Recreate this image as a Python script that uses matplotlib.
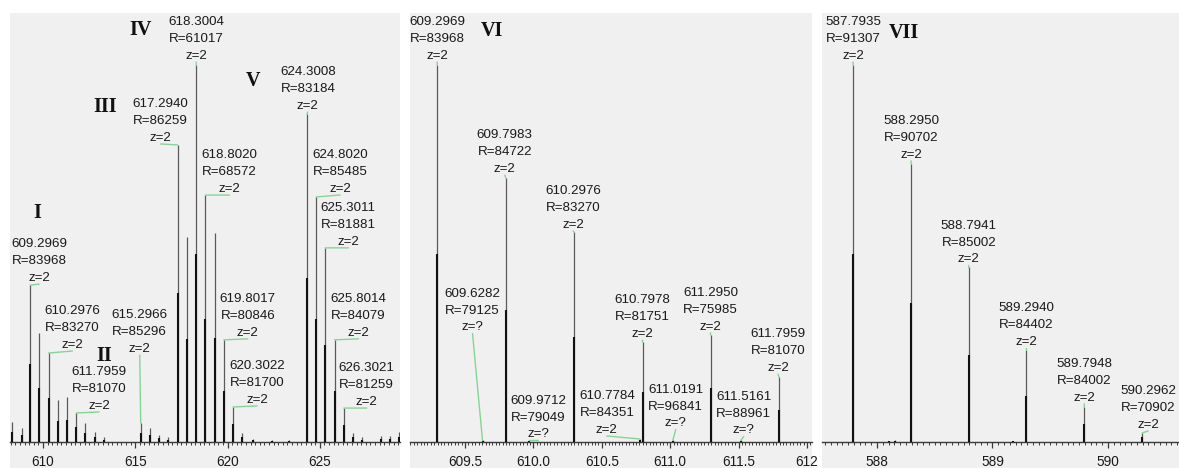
import matplotlib
matplotlib.use("Agg")
import matplotlib.pyplot as plt
from matplotlib.patches import Rectangle
from matplotlib.ticker import MultipleLocator, FixedLocator, FixedFormatter

plt.rcParams['font.family'] = ['Liberation Sans', 'DejaVu Sans']

W, H = 1179, 468

# ---- panel 1: whole region, m/z and relative intensity ----
mz1 = [608.32, 608.86, 609.2969, 609.7983, 610.2976, 610.80, 611.295, 611.7959, 612.30, 612.80, 613.31,
       615.2966, 615.80, 616.30, 616.80, 617.2940, 617.80, 618.3004, 618.8020, 619.30, 619.8017,
       620.3022, 620.80, 621.40, 622.40, 623.35, 624.3008, 624.8020, 625.3011, 625.8014, 626.3021,
       626.80, 627.30, 628.30, 628.80, 629.30]
int1 = [5.3, 3.7, 41.6, 28.9, 23.6, 11.1, 11.9, 7.7, 5.0, 2.7, 1.3,
        5.0, 3.7, 1.9, 1.3, 78.8, 54.4, 100, 65.5, 55.4, 27.1,
        9.3, 2.4, 0.8, 0.6, 0.6, 87.0, 65.0, 51.5, 27.1, 9.0,
        2.4, 1.3, 1.6, 1.6, 2.7]
lab1_mz = [609.2969, 610.2976, 611.7959, 615.2966, 617.2940, 618.3004, 618.8020,
           619.8017, 620.3022, 624.3008, 624.8020, 625.3011, 625.8014, 626.3021]
lab1_R = [83968, 83270, 81070, 85296, 86259, 61017, 68572,
          80846, 81700, 83184, 85485, 81881, 84079, 81259]
lab1_z = ['2'] * 14
roman1 = ['I', 'II', 'III', 'IV', 'V']

# ---- panel 2: zoom on cluster I/II ----
mz2 = [609.2969, 609.6282, 609.7983, 609.9712, 610.2976, 610.7784, 610.7978,
       611.0191, 611.2950, 611.5161, 611.7959]
int2 = [100, 0.4, 70.0, 0.4, 55.7, 0.8, 26.5, 0.4, 28.4, 0.4, 17.2]
lab2_mz = mz2
lab2_R = [83968, 79125, 84722, 79049, 83270, 84351, 81751, 96841, 75985, 88961, 81070]
lab2_z = ['2', '?', '2', '?', '2', '2', '2', '?', '2', '?', '2']
roman2 = ['VI']

# ---- panel 3: cluster VII ----
mz3 = [587.7935, 588.10, 588.16, 588.2950, 588.7941, 589.18, 589.2940, 589.7948, 590.2962]
int3 = [100, 0.3, 0.6, 73.8, 46.3, 0.3, 24.3, 9.3, 2.4]
lab3_mz = [587.7935, 588.2950, 588.7941, 589.2940, 589.7948, 590.2962]
lab3_R = [91307, 90702, 85002, 84402, 84002, 70902]
lab3_z = ['2'] * 6
roman3 = ['VII']

# layout: label offsets (pixels from peak top), roman numeral positions
off1 = [(9, 1), (24, 2), (23, 1), (-1, 68), (-17, 1), (0, 3), (24, 0),
        (24, 1), (24, 1), (1, 2), (24, 2), (23, 0), (24, 1), (23, 0)]
off2 = [(0, 3), (-10, 107), (-1, 3), (9, 0), (-1, 1), (-33, 3), (0, 2),
        (3, 11), (0, 2), (3, 4), (-1, 3)]
off3 = [(0, 3), (0, 3), (0, 2), (0, 2), (0, 3), (6, 2)]
rpos1 = [(609.67, 60.7), (613.33, 22.8), (613.36, 88.9), (615.26, 109.3), (621.38, 95.8)]
rpos2 = [(609.70, 109.0)]
rpos3 = [(588.23, 108.5)]

panels = [
    dict(px=(10, 400), xlim=(608.21, 629.35), major=[610, 615, 620, 625],
         ticklab=['610', '615', '620', '625'], minor=0.25,
         mz=mz1, inten=int1, lmz=lab1_mz, lR=lab1_R, lz=lab1_z, off=off1,
         roman=roman1, rpos=rpos1),
    dict(px=(410, 812), xlim=(609.098, 612.037), major=[609.5, 610, 610.5, 611, 611.5, 612],
         ticklab=['609.5', '610.0', '610.5', '611.0', '611.5', '612'], minor=0.025,
         mz=mz2, inten=int2, lmz=lab2_mz, lR=lab2_R, lz=lab2_z, off=off2,
         roman=roman2, rpos=rpos2),
    dict(px=(822, 1179), xlim=(587.524, 590.615), major=[588, 589, 590],
         ticklab=['588', '589', '590'], minor=0.05,
         mz=mz3, inten=int3, lmz=lab3_mz, lR=lab3_R, lz=lab3_z, off=off3,
         roman=roman3, rpos=rpos3),
]

BASE = 442
TOP = 13
YMAX = 113.8
GREEN = '#86d495'

fig = plt.figure(figsize=(W / 100, H / 100), dpi=100)

for p in panels:
    x0, x1 = p['px']
    fig.add_artist(Rectangle((x0 / W, 0), (x1 - x0) / W, (H - TOP) / H,
                             transform=fig.transFigure, facecolor='#f0f0f0',
                             edgecolor='none', zorder=-5))
    ax = fig.add_axes([x0 / W, (H - BASE) / H, (x1 - x0) / W, (BASE - TOP) / H])
    ax.set_facecolor('none')
    ax.set_xlim(*p['xlim'])
    ax.set_ylim(0, YMAX)

    # peaks: thin grey stem plus darker lower part
    ax.vlines(p['mz'], 0, p['inten'], color='#5a5a5a', lw=0.9, zorder=2)
    ax.vlines(p['mz'], 0, [v * 0.5 for v in p['inten']], color='#111111', lw=1.5, zorder=3)

    for m, r, z, (dx, dy) in zip(p['lmz'], p['lR'], p['lz'], p['off']):
        h = p['inten'][p['mz'].index(m)]
        ax.annotate(f"{m:.4f}\nR={r}\nz={z}", xy=(m, h), xycoords='data',
                    xytext=(dx, dy), textcoords='offset pixels',
                    ha='center', va='bottom', fontsize=9.6, color='#1a1a1a',
                    linespacing=1.55, annotation_clip=False,
                    arrowprops=dict(arrowstyle='-', color=GREEN, lw=1.0,
                                    shrinkA=0, shrinkB=0, patchA=None,
                                    relpos=(0.5, 0.0)))

    for t, (rx, ry) in zip(p['roman'], p['rpos']):
        ax.text(rx, ry, t, ha='center', va='center', fontsize=14.5,
                fontweight='bold', family=['Liberation Serif', 'DejaVu Serif'],
                color='#111111')

    for s in ['left', 'right', 'top']:
        ax.spines[s].set_visible(False)
    ax.spines['bottom'].set_color('#3a3a3a')
    ax.spines['bottom'].set_linewidth(1.0)
    ax.set_yticks([])
    ax.xaxis.set_major_locator(FixedLocator(p['major']))
    ax.xaxis.set_major_formatter(FixedFormatter(p['ticklab']))
    ax.xaxis.set_minor_locator(MultipleLocator(p['minor']))
    ax.tick_params(axis='x', which='major', length=4, width=0.9, color='#3a3a3a',
                   labelsize=9.8, labelcolor='#1a1a1a', pad=5)
    ax.tick_params(axis='x', which='minor', length=2.2, width=0.7, color='#3a3a3a')

fig.savefig('out.png', dpi=100, facecolor='white')
